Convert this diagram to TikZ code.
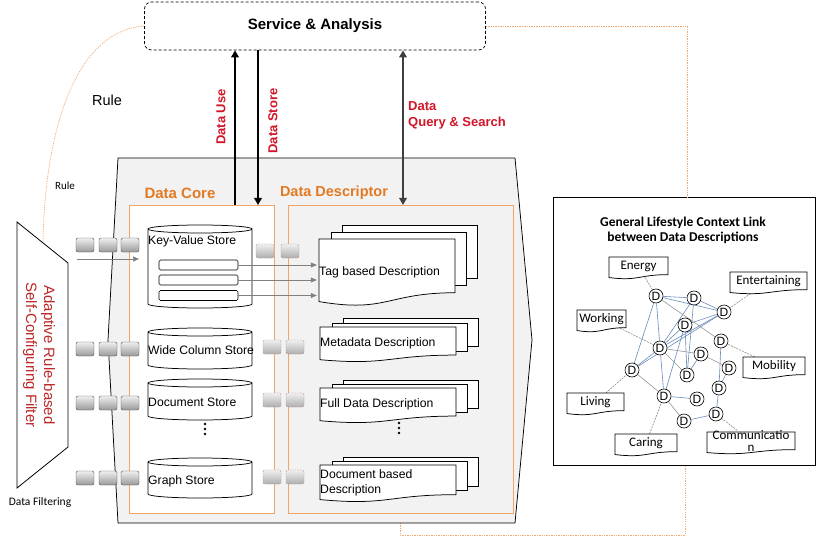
\documentclass[tikz,border=0pt]{standalone}
\usepackage{fontspec}
\setmainfont{Liberation Sans}
\newfontfamily\carl{Carlito}
\usetikzlibrary{arrows.meta,calc}
\pgfdeclarelayer{back}
\pgfdeclarelayer{mid}
\pgfsetlayers{back,mid,main}
\definecolor{orangeT}{RGB}{226,122,35}
\definecolor{orangeL}{RGB}{240,165,105}
\definecolor{dotorange}{RGB}{242,170,115}
\definecolor{redT}{RGB}{210,22,40}
\definecolor{filterRed}{RGB}{190,40,40}
\definecolor{bgGrey}{RGB}{242,242,242}
\definecolor{blueEdge}{RGB}{105,140,190}
\definecolor{greyEdge}{RGB}{150,150,150}
\newcommand\docfront[4]{%
  \draw[docline] (#1,#2) -- (#3,#2) -- (#3,{#2+0.802*#4})
    .. controls ({(#1+#3)/2},{#2+0.802*#4}) and ({(#1+#3)/2},{#2+1.107*#4}) ..
    (#1,{#2+0.934*#4}) -- cycle;}
\newcommand\docstack[6]{%
  \draw[docline] ({#1+23},{#2-#6}) rectangle ({#3+22},{#2+0.802*#4-#6});
  \draw[docline] ({#1+12},{#2-#5}) rectangle ({#3+11},{#2+0.802*#4-#5});
  \docfront{#1}{#2}{#3}{#4}}
\newcommand\cyl[2]{%
  \draw[cylline] (148,{#1+4}) -- (148,{#2-4})
    arc[start angle=180,end angle=360,x radius=52pt,y radius=4pt]
    -- (252,{#1+4})
    arc[start angle=0,end angle=180,x radius=52pt,y radius=4pt] -- cycle;
  \draw[cylline] (148,{#1+4}) arc[start angle=180,end angle=360,x radius=52pt,y radius=4pt];}
\newcommand\ctxlabel[5]{%
  \docfront{#2}{#3}{#4}{22}
  \node[lbltext, minimum width={(#4-#2)*1pt}] (#1) at ({(#2+#4)/2},{#3+9}) {#5};}
\newcommand\threedots[2]{%
  \fill (#1,{#2-5}) circle[radius=1.3pt];
  \fill (#1,#2) circle[radius=1.3pt];
  \fill (#1,{#2+5}) circle[radius=1.3pt];}
\begin{document}
\begin{tikzpicture}[x=1pt,y=-1pt,
  orangedot/.style={draw=dotorange, line width=0.7pt, dash pattern=on 1.3pt off 1.1pt},
  docline/.style={draw=black, line width=0.75pt, fill=white},
  cylline/.style={draw=black, line width=0.75pt, fill=white},
  lbltext/.style={inner sep=0pt, minimum height=18pt, align=center,
    font=\carl\fontsize{13}{12}\selectfont},
  qbox/.style={draw=black!70, rounded corners=2pt, minimum width=18pt, minimum height=14pt,
    inner sep=0pt, top color=black!6, bottom color=black!40},
  dqbox/.style={draw=red!30!black!45, dash pattern=on 2pt off 1pt, rounded corners=2pt,
    minimum width=18pt, minimum height=14pt, inner sep=0pt, top color=black!6, bottom color=black!32},
  kvrect/.style={draw=black, line width=0.6pt, rounded corners=1.5pt, fill=white,
    minimum width=79pt, minimum height=10pt, inner sep=0pt},
  storetext/.style={inner sep=0pt, anchor=west, font=\fontsize{12.2}{14}\selectfont},
  bigarrow/.style={line width=2.4pt, -{Triangle[length=7pt,width=7.5pt]}},
  redlbl/.style={text=redT, font=\bfseries\fontsize{13}{16}\selectfont, inner sep=0pt},
  grayarrow/.style={draw=black!50, line width=0.6pt, -{Triangle[length=6pt,width=5pt]}},
  dnode/.style={circle, draw=black, line width=0.6pt, fill=white, inner sep=0pt,
    minimum size=14pt, font=\fontsize{12}{12}\selectfont},
  bedge/.style={draw=blueEdge, line width=0.6pt},
  gedge/.style={draw=greyEdge, line width=0.6pt},
  ctxline/.style={draw=black!45, line width=0.6pt, dash pattern=on 2pt off 1pt}
]
\useasboundingbox (0,0) rectangle (818,537);

% ---------- service box ----------
\node[draw=black, line width=0.7pt, dash pattern=on 3pt off 2pt, rounded corners=7pt, fill=white,
  minimum width=341pt, minimum height=48pt, inner sep=0pt,
  font=\bfseries\fontsize{15}{18}\selectfont] (service) at (315,26) {Service \& Analysis};

% ---------- orange dotted connectors ----------
\coordinate (filtertop) at (43,243);
\coordinate (ctxtop) at (687,197);
\coordinate (pentb) at (400,523);
\coordinate (ctxbot) at (685,465);
\draw[orangedot] (service.west) .. controls (80,30) and (45,120) .. (filtertop);
\draw[orangedot] (service.east) -| (ctxtop);
\draw[orangedot] (pentb) -- (400,535) -| (ctxbot);

\node[font=\fontsize{14.5}{16}\selectfont, inner sep=0pt] (rulebig) at (107,100) {Rule};
\node[font=\carl\fontsize{11}{12}\selectfont, inner sep=0pt] (rulesmall) at (65,186) {Rule};

% ---------- big chevron ----------
\draw[line width=0.75pt, fill=bgGrey] (118,158) -- (515,158) -- (532,340) -- (515,523)
  -- (118,523) -- (108,340) -- cycle;

% ---------- core / descriptor boxes ----------
\node[draw=orangeL, line width=0.8pt, fill=white, minimum width=145pt, minimum height=308pt,
  inner sep=0pt] (core) at (201.5,359) {};
\node[draw=orangeL, line width=0.8pt, fill=bgGrey, minimum width=225pt, minimum height=308pt,
  inner sep=0pt] (desc) at (400.5,359) {};
\node[text=orangeT, font=\bfseries\fontsize{15}{16}\selectfont, inner sep=0pt] (corelbl) at (180,193) {Data Core};
\node[text=orangeT, font=\bfseries\fontsize{14.5}{16}\selectfont, inner sep=0pt] (desclbl) at (334,193) {Data Descriptor};

% ---------- cylinders ----------
\cyl{225}{308}
\cyl{328}{369}
\cyl{379}{420}
\cyl{458}{498}
\node[storetext] (kvs) at (148,241) {Key-Value Store};
\node[storetext] (wcs) at (148,350) {Wide Column Store};
\node[storetext] (dcs) at (148,402) {Document Store};
\node[storetext] (gs) at (148,481) {Graph Store};
\threedots{205}{429}
\node[kvrect] (kv1) at (198.5,265) {};
\node[kvrect] (kv2) at (198.5,280) {};
\node[kvrect] (kv3) at (198.5,295.5) {};

% ---------- document stacks ----------
\docstack{319}{239}{455}{67}{7}{14}
\node[inner sep=0pt, minimum width=136pt, minimum height=54pt] (tag) at (387,266) {};
\node[storetext] (tagt) at (319,272) {Tag based Description};
\docstack{320}{327}{456}{35}{4}{9}
\node[storetext] (metat) at (320,343) {Metadata Description};
\docstack{320}{388}{456}{35}{4}{8}
\node[storetext] (fullt) at (320,404) {Full Data Description};
\threedots{399}{428}
\docstack{320}{465}{456}{37}{4}{8}
\node[storetext, align=left, font=\fontsize{12.2}{15}\selectfont] (doct) at (320,483) {Document based\\Description};

% gray arrows from KV entries to tag description
\draw[grayarrow, shorten >=2pt] (kv1.east) -- (kv1.east -| tag.west);
\draw[grayarrow, shorten >=2pt] (kv2.east) -- (kv2.east -| tag.west);
\draw[grayarrow, shorten >=2pt] (kv3.east) -- (kv3.east -| tag.west);

% ---------- dashed transfer boxes ----------
\node[dqbox] (t1a) at (265,251) {};
\node[dqbox] (t1b) at (290,251) {};
\node[dqbox] (t2a) at (272,347) {};
\node[dqbox] (t2b) at (295,347) {};
\node[dqbox] (t3a) at (272,400) {};
\node[dqbox] (t3b) at (295,400) {};
\node[dqbox] (t4a) at (272,477) {};
\node[dqbox] (t4b) at (295,477) {};

% ---------- filter ----------
\draw[line width=0.8pt, fill=white] (17,222) -- (68,263) -- (68,447) -- (17,488) -- cycle;
\node[rotate=-90, align=center, text=filterRed, inner sep=0pt,
  font=\fontsize{15}{18}\selectfont] (filt) at (39,355) {Adaptive Rule-based\\Self-Configuring Filter};
\node[font=\carl\fontsize{11.5}{12}\selectfont, inner sep=0pt] (dfl) at (40,502) {Data Filtering};

% ---------- queue boxes ----------
\foreach \r/\yy in {1/245,2/349,3/403,4/478}{
  \node[qbox] (q\r a) at (85,\yy) {};
  \node[qbox] (q\r b) at (108,\yy) {};
  \node[qbox] (q\r c) at (130,\yy) {};
}
\coordinate (inA) at (77,259);
\coordinate (inB) at (139,259);
\draw[grayarrow] (inA) -- (inB);

% ---------- vertical data arrows ----------
\coordinate (duB) at (235,205);
\coordinate (dsB) at (258,205);
\coordinate (dqB) at (403,205);
\draw[bigarrow] (duB) -- (duB |- service.south);
\draw[bigarrow] (dsB |- service.south) -- (dsB);
\draw[line width=2.4pt, draw=black!75, {Triangle[length=7pt,width=7.5pt]}-{Triangle[length=7pt,width=7.5pt]}]
  (dqB |- service.south) -- (dqB);
\node[redlbl, rotate=90] (dul) at (221,117) {Data Use};
\node[redlbl, rotate=90] (dsl) at (273,121) {Data Store};
\node[redlbl, anchor=west, align=left] (dql) at (408,115) {Data\\Query \& Search};

% ---------- right context box ----------
\begin{pgfonlayer}{back}
\node[draw=black, line width=0.9pt, fill=white, minimum width=262pt, minimum height=268pt,
  inner sep=0pt] (ctx) at (684,331) {};
\end{pgfonlayer}
\node[align=center, inner sep=0pt, font=\carl\bfseries\fontsize{13.5}{15}\selectfont] (ctxt) at (683,230)
  {General Lifestyle Context Link\\between Data Descriptions};

\ctxlabel{lEnergy}{609}{257}{668}{Energy}
\ctxlabel{lEnt}{730}{272}{807}{Entertaining}
\ctxlabel{lWork}{577}{310}{626}{Working}
\ctxlabel{lMob}{743}{357}{805}{Mobility}
\ctxlabel{lLiv}{567}{393}{624}{Living}
\ctxlabel{lCar}{615}{434}{677}{Caring}
\docfront{707}{432}{795}{22}
\node[lbltext, minimum width=88pt] (lCom) at (751,441) {Communicatio\\n};

\node[dnode] (d1) at (656,296) {D};
\node[dnode] (d2) at (694,298) {D};
\node[dnode] (d3) at (724,312) {D};
\node[dnode] (d4) at (685,325) {D};
\node[dnode] (d5) at (721,341) {D};
\node[dnode] (d6) at (660,348) {D};
\node[dnode] (d7) at (701,354) {D};
\node[dnode] (d8) at (729,368) {D};
\node[dnode] (d9) at (632,370) {D};
\node[dnode] (d10) at (687,375) {D};
\node[dnode] (d11) at (719,388) {D};
\node[dnode] (d12) at (664,396) {D};
\node[dnode] (d13) at (697,399) {D};
\node[dnode] (d14) at (716,414) {D};
\node[dnode] (d15) at (684,421) {D};

\begin{pgfonlayer}{mid}
\foreach \a/\b in {d1/d2,d1/d3,d1/d6,d1/d9,d2/d3,d2/d6,d2/d10,d3/d4,d3/d6,d4/d6,d4/d12,
  d4/d10,d5/d11,d8/d11,d11/d14,d14/d15,d12/d13,d6/d9,d6/d12,d7/d10,d3/d9}
  \draw[bedge] (\a) -- (\b);
\foreach \a/\b in {d6/d7,d7/d8,d1/d5,d6/d10,d9/d12,d12/d15}
  \draw[gedge] (\a) -- (\b);
\draw[ctxline] (lEnergy) -- (d1);
\draw[ctxline] (lEnt) -- (d3);
\draw[ctxline] (lWork) -- (d6);
\draw[ctxline] (lMob) -- (d5);
\draw[ctxline] (lLiv) -- (d9);
\draw[ctxline] (lCar) -- (d12);
\draw[ctxline] (lCom) -- (d14);
\end{pgfonlayer}
\end{tikzpicture}
\end{document}
